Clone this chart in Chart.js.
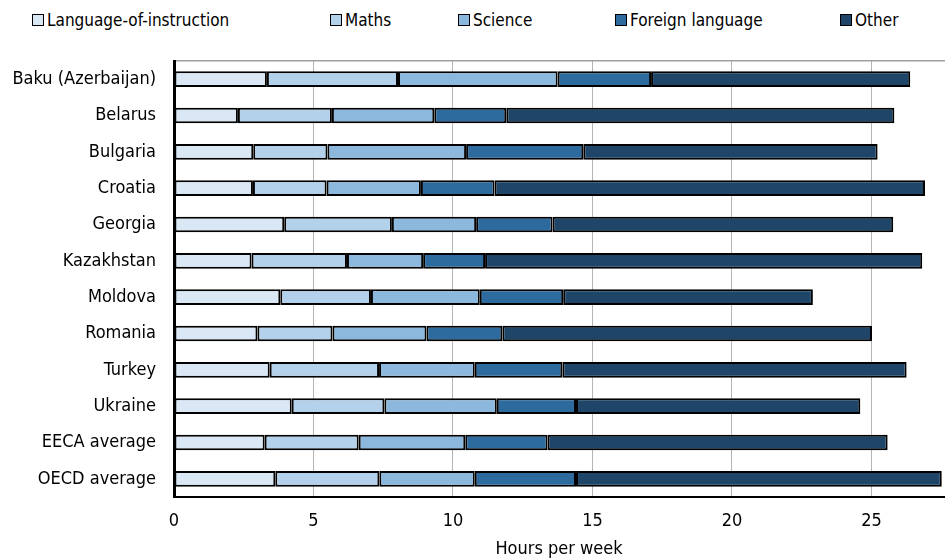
<!DOCTYPE html>
<html>
<head>
<meta charset="utf-8">
<script src="https://cdn.jsdelivr.net/npm/chart.js@4"></script>
<style>
  html, body { margin: 0; padding: 0; background: #fff; }
  #wrap { position: relative; width: 945px; height: 558px; font-family: "DejaVu Sans Condensed", "DejaVu Sans", sans-serif; }
  #legend { position: absolute; top: 9px; left: 0; width: 945px; height: 22px; font-size: 17px; color: #000; }
  #legend .item { position: absolute; top: 0; height: 22px; display: flex; align-items: center; white-space: nowrap; }
  #legend .box { width: 12px; height: 12px; border: 1.5px solid #000; margin-right: 3px; box-sizing: border-box; }
  #chart { position: absolute; left: 0; top: 0; }
</style>
</head>
<body>
<div id="wrap">
  <div id="legend"></div>
  <canvas id="chart" width="945" height="558"></canvas>
</div>
<script>
// categories
const countries = ['Baku (Azerbaijan)', 'Belarus', 'Bulgaria', 'Croatia', 'Georgia', 'Kazakhstan',
  'Moldova', 'Romania', 'Turkey', 'Ukraine', 'EECA average', 'OECD average'];

// hours per week by subject
const languageHours = [3.33, 2.29, 2.84, 2.83, 3.95, 2.78, 3.81, 2.99, 3.43, 4.22, 3.25, 3.63];
const mathsHours    = [4.70, 3.37, 2.66, 2.64, 3.86, 3.42, 3.25, 2.69, 3.92, 3.32, 3.37, 3.73];
const scienceHours  = [5.72, 3.67, 4.97, 3.38, 3.02, 2.73, 3.90, 3.37, 3.43, 4.03, 3.82, 3.42];
const foreignHours  = [3.35, 2.58, 4.20, 2.64, 2.74, 2.22, 2.99, 2.72, 3.14, 2.84, 2.95, 3.63];
const otherHours    = [9.29, 13.91, 10.55, 15.43, 12.21, 15.67, 8.95, 13.25, 12.34, 10.19, 12.19, 13.11];

const seriesNames = ['Language-of-instruction', 'Maths', 'Science', 'Foreign language', 'Other'];
const xTicks = [0, 5, 10, 15, 20, 25];

const colors = ['#dae7f4', '#b3d1eb', '#8cb8de', '#2d6a9d', '#1f4668'];
const legendLeft = [32, 330, 458, 615, 840];

const allSeries = [languageHours, mathsHours, scienceHours, foreignHours, otherHours];

// legend (html)
const legendEl = document.getElementById('legend');
seriesNames.forEach((name, i) => {
  const it = document.createElement('div');
  it.className = 'item';
  it.style.left = legendLeft[i] + 'px';
  it.innerHTML = '<span class="box" style="background:' + colors[i] + '"></span><span>' + name + '</span>';
  legendEl.appendChild(it);
});

const font = { family: '"DejaVu Sans Condensed", "DejaVu Sans", sans-serif', size: 18 };

new Chart(document.getElementById('chart'), {
  type: 'bar',
  data: {
    labels: countries,
    datasets: allSeries.map((vals, i) => ({
      label: seriesNames[i],
      data: vals,
      backgroundColor: colors[i],
      borderColor: '#000',
      borderWidth: 2,
      borderSkipped: false,
      barPercentage: 0.43,
      categoryPercentage: 1,
    })),
  },
  options: {
    indexAxis: 'y',
    responsive: false,
    animation: false,
    layout: { padding: { top: 61, left: 0, right: 1, bottom: 0 } },
    plugins: {
      legend: { display: false },
      tooltip: { enabled: false },
    },
    scales: {
      x: {
        stacked: true,
        min: 0,
        max: 27.6,
        afterBuildTicks: scale => { scale.ticks = xTicks.map(v => ({ value: v })); },
        afterFit: scale => { scale.height = 61; },
        ticks: { font: font, color: '#000', padding: 14 },
        grid: { color: '#b4b4b4', lineWidth: 1, drawTicks: false },
        border: { color: '#000', width: 2 },
        title: { display: true, text: 'Hours per week', font: font, color: '#000', padding: { top: 0, bottom: -2 } },
      },
      xTop: {
        position: 'top',
        axis: 'x',
        min: 0,
        max: 27.6,
        ticks: { display: false },
        grid: { display: false, drawTicks: false },
        border: { color: '#a0a0a0', width: 1.5 },
      },
      y: {
        stacked: true,
        ticks: { font: font, color: '#000', padding: 18 },
        grid: { display: false, drawTicks: false },
        border: { color: '#000', width: 3 },
        afterFit: scale => { scale.width = 174; },
      },
    },
  },
});
</script>
</body>
</html>
